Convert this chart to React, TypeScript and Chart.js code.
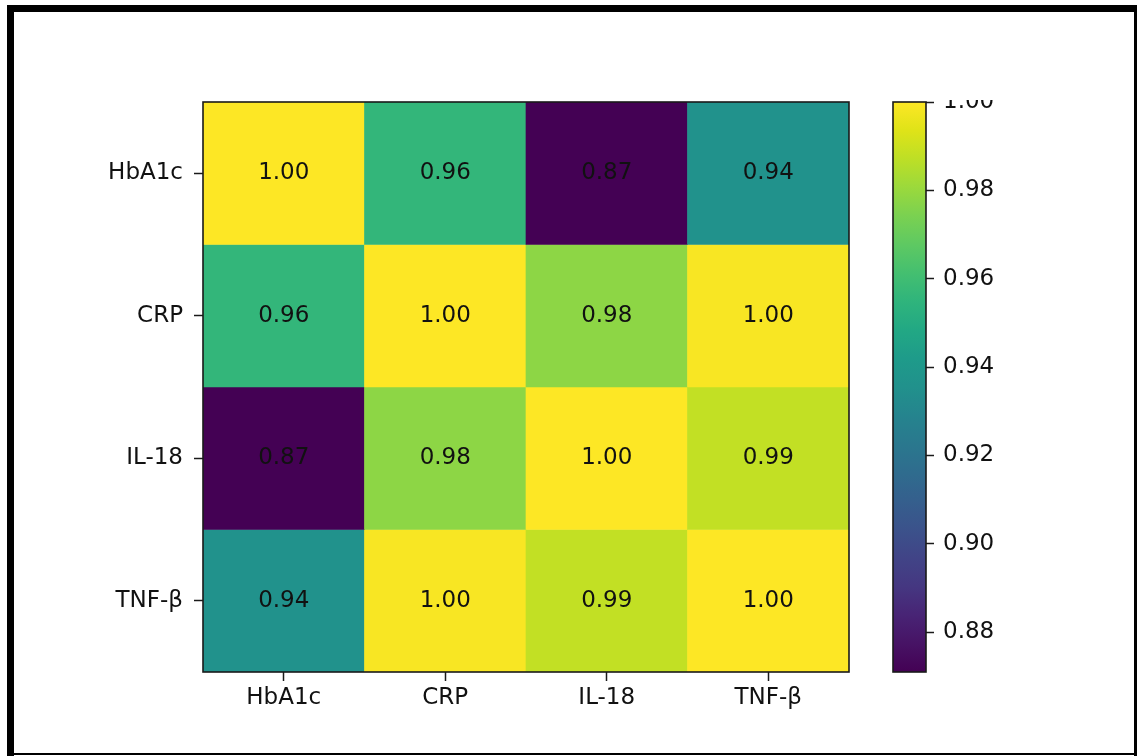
import React, { useEffect, useRef } from "react";
import { Chart, registerables } from "chart.js";

Chart.register(...registerables);

const rowLabels = ["HbA1c", "CRP", "IL-18", "TNF-β"];
const colLabels = ["HbA1c", "CRP", "IL-18", "TNF-β"];
const rowHbA1c = [1.0, 0.956, 0.871, 0.936];
const rowCRP = [0.956, 1.0, 0.978, 0.999];
const rowIL18 = [0.871, 0.978, 1.0, 0.988];
const rowTNF = [0.936, 0.999, 0.988, 1.0];
const matrix = [rowHbA1c, rowCRP, rowIL18, rowTNF];
const colorbarTicks = [0.88, 0.9, 0.92, 0.94, 0.96, 0.98, 1.0];
const cbMin = 0.871;
const cbMax = 1.0;

const viridisStops: [number, string][] = [
  [0.0, "#440154"],
  [0.05, "#471365"],
  [0.1, "#482475"],
  [0.15, "#453781"],
  [0.2, "#414487"],
  [0.25, "#3b528b"],
  [0.3, "#355f8d"],
  [0.35, "#2f6c8e"],
  [0.4, "#2a788e"],
  [0.45, "#25848e"],
  [0.5, "#21918c"],
  [0.55, "#1e9b8a"],
  [0.6, "#22a884"],
  [0.65, "#2fb47c"],
  [0.7, "#44bf70"],
  [0.75, "#5ec962"],
  [0.8, "#7ad151"],
  [0.85, "#9bd93c"],
  [0.9, "#bddf26"],
  [0.95, "#dfe318"],
  [1.0, "#fde725"],
];

function hex(h: string) {
  return [parseInt(h.slice(1, 3), 16), parseInt(h.slice(3, 5), 16), parseInt(h.slice(5, 7), 16)];
}

function viridis(t: number) {
  t = Math.max(0, Math.min(1, t));
  for (let i = 0; i < viridisStops.length - 1; i++) {
    const [t0, c0] = viridisStops[i];
    const [t1, c1] = viridisStops[i + 1];
    if (t <= t1) {
      const f = (t - t0) / (t1 - t0);
      const a = hex(c0);
      const b = hex(c1);
      const c = a.map((v, k) => Math.round(v + (b[k] - v) * f));
      return `rgb(${c[0]},${c[1]},${c[2]})`;
    }
  }
  return viridisStops[viridisStops.length - 1][1];
}

const FONT = "'DejaVu Sans', 'Liberation Sans', sans-serif";
const SPINE = "#1a1a1a";

export default function App() {
  const heatRef = useRef<HTMLCanvasElement>(null);
  const cbRef = useRef<HTMLCanvasElement>(null);

  useEffect(() => {
    const n = rowLabels.length;
    const borderPlugin = {
      id: "spines",
      afterDatasetsDraw(chart: any) {
        const { ctx, chartArea: a } = chart;
        ctx.save();
        ctx.strokeStyle = SPINE;
        ctx.lineWidth = 1.6;
        ctx.strokeRect(a.left, a.top, a.right - a.left, a.bottom - a.top);
        ctx.restore();
      },
    };
    const textPlugin = {
      id: "cellText",
      afterDatasetsDraw(chart: any) {
        const { ctx } = chart;
        const xs = chart.scales.x;
        const ys = chart.scales.y;
        ctx.save();
        ctx.fillStyle = "#111";
        ctx.font = `23px ${FONT}`;
        ctx.textAlign = "center";
        ctx.textBaseline = "middle";
        matrix.forEach((row, i) => {
          row.forEach((v, j) => {
            ctx.fillText(v.toFixed(2), xs.getPixelForValue(j), ys.getPixelForValue(n - 0.5 - i));
          });
        });
        ctx.restore();
      },
    };

    const heat = new Chart(heatRef.current!, {
      type: "bar",
      data: {
        labels: colLabels,
        datasets: matrix.map((row, i) => ({
          label: rowLabels[i],
          data: row.map(() => [n - 1 - i, n - i]),
          backgroundColor: row.map((v) => viridis((v - cbMin) / (cbMax - cbMin))),
          grouped: false,
          barPercentage: 1,
          categoryPercentage: 1,
          borderWidth: 0,
          borderSkipped: false,
        })) as any,
      },
      options: {
        animation: false,
        responsive: false,
        maintainAspectRatio: false,
        events: [],
        layout: { padding: { left: 0, top: 102, right: 21, bottom: 0 } },
        plugins: { legend: { display: false }, tooltip: { enabled: false } },
        scales: {
          x: {
            type: "category",
            offset: true,
            grid: { display: true, offset: false, drawOnChartArea: false, drawTicks: true, tickLength: 9, tickColor: SPINE, tickWidth: 1.5 },
            border: { display: false },
            ticks: { color: "#111", font: { family: FONT, size: 23 }, padding: 3, maxRotation: 0, autoSkip: false },
            afterFit: (s: any) => {
              s.height = 84;
              s.paddingLeft = 0;
              s.paddingRight = 0;
            },
          },
          y: {
            type: "linear",
            min: 0,
            max: n,
            grid: { display: true, drawOnChartArea: false, drawTicks: true, tickLength: 9, tickColor: SPINE, tickWidth: 1.5 },
            border: { display: false },
            ticks: {
              color: "#111",
              font: { family: FONT, size: 23 },
              padding: 11,
              callback: (v: any) => rowLabels[Math.round(n - 0.5 - Number(v))],
            },
            afterBuildTicks: (s: any) => {
              s.ticks = rowLabels.map((_, i) => ({ value: n - 0.5 - i }));
            },
            afterFit: (s: any) => {
              s.width = 203;
              s.paddingTop = 0;
              s.paddingBottom = 0;
            },
          },
        },
      } as any,
      plugins: [textPlugin, borderPlugin],
    });

    const cb = new Chart(cbRef.current!, {
      type: "bar",
      data: {
        labels: ["cb"],
        datasets: [
          {
            data: [[cbMin, cbMax]],
            backgroundColor: (c: any) => {
              const chart = c.chart;
              const a = chart.chartArea;
              if (!a) return viridis(1);
              const g = chart.ctx.createLinearGradient(0, a.bottom, 0, a.top);
              viridisStops.forEach(([t, col]) => g.addColorStop(t, col));
              return g;
            },
            barPercentage: 1,
            categoryPercentage: 1,
            borderWidth: 0,
            borderSkipped: false,
          },
        ] as any,
      },
      options: {
        animation: false,
        responsive: false,
        maintainAspectRatio: false,
        events: [],
        layout: { padding: { left: 23, top: 2, right: 111, bottom: 84 } },
        plugins: { legend: { display: false }, tooltip: { enabled: false } },
        scales: {
          x: { display: false },
          y: {
            type: "linear",
            position: "right",
            min: cbMin,
            max: cbMax,
            grid: { display: true, drawOnChartArea: false, drawTicks: true, tickLength: 8, tickColor: SPINE, tickWidth: 1.5 },
            border: { display: false },
            ticks: {
              color: "#111",
              font: { family: FONT, size: 23 },
              padding: 9,
              callback: (v: any) => Number(v).toFixed(2),
            },
            afterBuildTicks: (s: any) => {
              s.ticks = colorbarTicks.map((v) => ({ value: v }));
            },
            afterFit: (s: any) => {
              s.width = 100;
              s.paddingTop = 0;
              s.paddingBottom = 0;
            },
          },
        },
      } as any,
      plugins: [borderPlugin],
    });

    return () => {
      heat.destroy();
      cb.destroy();
    };
  }, []);

  return (
    <div style={{ position: "fixed", left: 0, top: 0, width: 1137, height: 756, background: "#fff", overflow: "hidden" }}>
      <canvas ref={heatRef} width={870} height={756} style={{ position: "absolute", left: 0, top: 0, width: 870, height: 756 }} />
      <canvas ref={cbRef} width={267} height={656} style={{ position: "absolute", left: 870, top: 100, width: 267, height: 656 }} />
      <div style={{ position: "absolute", left: 7, top: 5, width: 1130, height: 7, background: "#000" }} />
      <div style={{ position: "absolute", left: 7, top: 5, width: 7, height: 751, background: "#000" }} />
      <div style={{ position: "absolute", left: 1134, top: 5, width: 3, height: 751, background: "#000" }} />
      <div style={{ position: "absolute", left: 7, top: 753, width: 1130, height: 2, background: "#000" }} />
    </div>
  );
}
